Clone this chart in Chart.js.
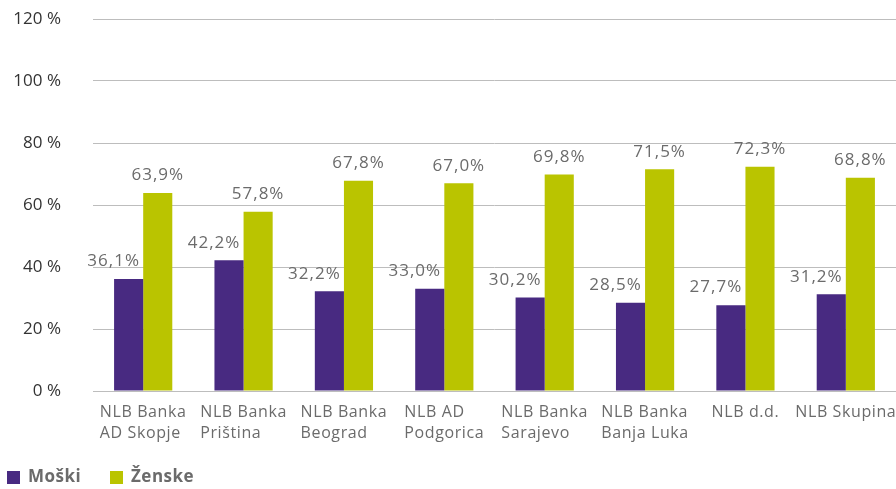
<!DOCTYPE html>
<html>
<head>
<meta charset="utf-8">
<script src="https://cdn.jsdelivr.net/npm/chart.js@4/dist/chart.umd.min.js"></script>
<style>
  html, body { margin: 0; padding: 0; background: #fff; }
  #wrap { width: 896px; height: 489px; }
</style>
</head>
<body>
<div id="wrap"><canvas id="c"></canvas></div>
<script>
// categories (two line labels) and the two series
var banks = [
  ["NLB Banka", "AD Skopje"],
  ["NLB Banka", "Priština"],
  ["NLB Banka", "Beograd"],
  ["NLB AD", "Podgorica"],
  ["NLB Banka", "Sarajevo"],
  ["NLB Banka", "Banja Luka"],
  ["NLB d.d."],
  ["NLB Skupina"]
];
var moski = [36.1, 42.2, 32.2, 33.0, 30.2, 28.5, 27.7, 31.2];
var zenske = [63.9, 57.8, 67.8, 67.0, 69.8, 71.5, 72.3, 68.8];
var seriesNames = ["Moški", "Ženske"];
var yTicks = [0, 20, 40, 60, 80, 100, 120];

var FONT = "'Open Sans', 'DejaVu Sans', sans-serif";
var PURPLE = "#482a81";
var GREEN = "#bac400";

function fmt(v) {
  return v.toFixed(1).replace(".", ",") + "%";
}

// value labels above every bar
var valueLabels = {
  id: "valueLabels",
  afterDatasetsDraw: function(chart) {
    var ctx = chart.ctx;
    ctx.save();
    ctx.font = "17px " + FONT;
    ctx.letterSpacing = "1px";
    ctx.fillStyle = "#6b6b6b";
    ctx.textAlign = "center";
    ctx.textBaseline = "bottom";
    chart.data.datasets.forEach(function(ds, di) {
      var meta = chart.getDatasetMeta(di);
      var shift = di == 0 ? -15 : 0;
      meta.data.forEach(function(bar, i) {
        ctx.fillText(fmt(ds.data[i]), bar.x + shift, bar.y - 9);
      });
    });
    ctx.restore();
  }
};

// x labels: left aligned block, centred on the category
var xLabels = {
  id: "xLabels",
  afterDraw: function(chart) {
    var ctx = chart.ctx;
    var sc = chart.scales.x;
    ctx.save();
    ctx.font = "16px " + FONT;
    ctx.letterSpacing = "0.6px";
    ctx.fillStyle = "#6b6b6b";
    ctx.textAlign = "left";
    ctx.textBaseline = "middle";
    banks.forEach(function(lines, i) {
      var w = 0;
      lines.forEach(function(l) { w = Math.max(w, ctx.measureText(l).width); });
      var x = sc.getPixelForValue(i) - w / 2;
      lines.forEach(function(l, k) {
        ctx.fillText(l, x, chart.chartArea.bottom + 21 + k * 21);
      });
    });
    ctx.restore();
  }
};

// legend at bottom left
var legendBox = {
  id: "legendBox",
  afterDraw: function(chart) {
    var ctx = chart.ctx;
    var xs = [7, 110];
    ctx.save();
    ctx.font = "bold 17px " + FONT;
    ctx.letterSpacing = "0.5px";
    ctx.textBaseline = "middle";
    ctx.textAlign = "left";
    chart.data.datasets.forEach(function(ds, di) {
      ctx.fillStyle = ds.backgroundColor;
      ctx.fillRect(xs[di], 471, 13, 13);
      ctx.fillStyle = "#6b6b6b";
      ctx.fillText(ds.label, xs[di] + 21, 477);
    });
    ctx.restore();
  }
};

var ctx = document.getElementById("c").getContext("2d");
var chart = new Chart(ctx, {
  type: "bar",
  data: {
    labels: banks,
    datasets: [
      { label: seriesNames[0], data: moski, backgroundColor: PURPLE,
        categoryPercentage: 0.58, barPercentage: 1.0 },
      { label: seriesNames[1], data: zenske, backgroundColor: GREEN,
        categoryPercentage: 0.58, barPercentage: 1.0 }
    ]
  },
  options: {
    responsive: true,
    maintainAspectRatio: false,
    animation: false,
    layout: { padding: 0 },
    plugins: {
      legend: { display: false },
      tooltip: { enabled: false }
    },
    scales: {
      x: {
        grid: { display: false, drawTicks: false },
        border: { display: true, color: "#bdbdbd" },
        ticks: { display: false },
        afterFit: function(s) { s.height = 98; }
      },
      y: {
        min: 0,
        max: 120,
        afterBuildTicks: function(s) {
          s.ticks = yTicks.map(function(v) { return { value: v }; });
        },
        grid: { color: "#bdbdbd", drawTicks: false, lineWidth: 1 },
        border: { display: false },
        ticks: {
          padding: 32,
          color: "#333",
          font: { size: 17, family: FONT },
          callback: function(v) { return v + " %"; }
        },
        afterFit: function(s) {
          s.width = 93;
          // tick padding is horizontal here, keep it out of the top/bottom space
          s.paddingTop = 19;
          s.paddingBottom = 0;
        }
      }
    }
  },
  plugins: [valueLabels, xLabels, legendBox]
});
</script>
</body>
</html>
